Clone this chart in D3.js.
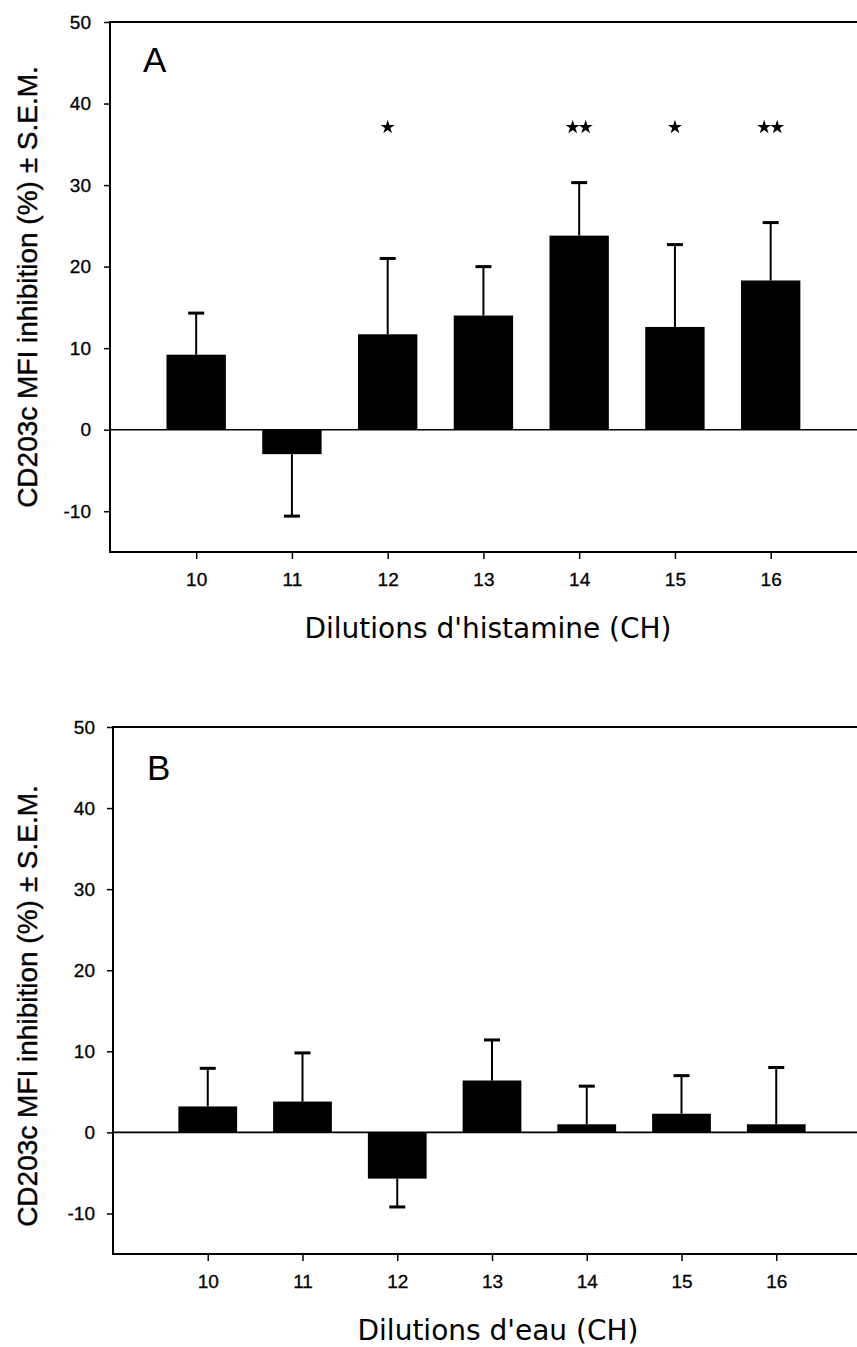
<!DOCTYPE html>
<html>
<head>
<meta charset="utf-8">
<script src="https://cdn.jsdelivr.net/npm/d3@7"></script>
<style>
  body { margin: 0; background: #fff; }
  svg { display: block; }
  .tick text { font-family: "Liberation Sans", Arial, sans-serif; font-size: 19px; fill: #000; stroke: #000; stroke-width: 0.3px; }
</style>
</head>
<body>
<svg id="chart" width="857" height="1347"></svg>
<script>
// dilutions (CH)
const categories = [10, 11, 12, 13, 14, 15, 16];
const yTicks = [-10, 0, 10, 20, 30, 40, 50];

// A: histamine
const histMean = [9.2, -3.0, 11.7, 14.0, 23.8, 12.6, 18.3];
const histSem = [5.1, 7.6, 9.3, 6.0, 6.5, 10.1, 7.1];
const histSig = ["", "", "*", "", "**", "*", "**"];

// B: eau
const waterMean = [3.2, 3.8, -5.7, 6.4, 1.0, 2.3, 1.0];
const waterSem = [4.7, 6.0, 3.5, 5.0, 4.7, 4.7, 7.0];

const svg = d3.select("#chart");

function drawPanel(p) {
    const g = svg.append("g");
    const x = d3.scaleLinear().domain(p.xDomain).range([p.left, p.right]);
    const y = d3.scaleLinear().domain([-15, 50]).range([p.bottom, p.top]);
    const barW = x(p.xDomain[0] + 0.62) - x(p.xDomain[0]);

    // bars
    g.selectAll("rect.bar")
        .data(p.mean)
        .join("rect")
        .attr("class", "bar")
        .attr("x", (d, i) => x(categories[i]) - barW / 2)
        .attr("y", d => y(Math.max(0, d)))
        .attr("width", barW)
        .attr("height", d => Math.abs(y(d) - y(0)))
        .style("fill", "#000");

    // error bars, only on the side of the bar
    const err = p.mean.map((m, i) => ({ c: categories[i], m: m, e: m + Math.sign(m) * p.sem[i] }));
    g.selectAll("line.err")
        .data(err)
        .join("line")
        .attr("x1", d => x(d.c)).attr("x2", d => x(d.c))
        .attr("y1", d => y(d.m)).attr("y2", d => y(d.e))
        .style("stroke", "#000").style("stroke-width", 2);
    g.selectAll("line.cap")
        .data(err)
        .join("line")
        .attr("x1", d => x(d.c) - 8).attr("x2", d => x(d.c) + 8)
        .attr("y1", d => y(d.e)).attr("y2", d => y(d.e))
        .style("stroke", "#000").style("stroke-width", 3);

    // zero line
    g.append("line")
        .attr("x1", p.left).attr("x2", p.right)
        .attr("y1", y(0)).attr("y2", y(0))
        .style("stroke", "#000").style("stroke-width", 1.6);

    // frame: top + bottom + left
    g.append("path")
        .attr("d", `M${p.right},${p.top}H${p.left}V${p.bottom}H${p.right}`)
        .style("fill", "none").style("stroke", "#000").style("stroke-width", 2);

    // axes
    const yAxis = g.append("g")
        .attr("transform", `translate(${p.left},0)`)
        .call(d3.axisLeft(y).tickValues(yTicks).tickSize(6).tickPadding(p.yPad).tickSizeOuter(0)
            .tickFormat(d => String(d)));
    yAxis.select(".domain").remove();
    yAxis.selectAll(".tick line").style("stroke-width", 1.5);

    const xAxis = g.append("g")
        .attr("transform", `translate(0,${p.bottom})`)
        .call(d3.axisBottom(x).tickValues(categories).tickSize(7).tickPadding(14).tickFormat(d => String(d)));
    xAxis.select(".domain").remove();
    xAxis.selectAll(".tick line").style("stroke-width", 1.5);

    // axis titles
    g.append("text")
        .attr("transform", `translate(37,${p.yTitleY}) rotate(-90)`)
        .attr("text-anchor", "middle")
        .style("font-family", "'Liberation Sans', Arial, sans-serif")
        .style("font-size", "28px")
        .style("stroke", "#000").style("stroke-width", 0.4)
        .text("CD203c MFI inhibition (%) ± S.E.M.");

    g.append("text")
        .attr("x", p.xTitleX)
        .attr("y", p.xTitleY)
        .attr("text-anchor", "middle")
        .style("font-family", "'DejaVu Sans', Verdana, sans-serif")
        .style("font-size", "28px")
        .text(p.xTitle);

    // panel letter
    g.append("text")
        .attr("x", p.letterX).attr("y", p.letterY)
        .style("font-family", "'Liberation Sans', Arial, sans-serif")
        .style("font-size", "35px")
        .text(p.letter);

    // significance stars
    if (p.sig) {
        const star = d3.symbol().type(d3.symbolStar).size(62);
        const stars = [];
        p.sig.forEach((s, i) => {
            const n = s.length;
            for (let k = 0; k < n; k++) {
                stars.push({ cx: x(categories[i]) + (k - (n - 1) / 2) * 13 });
            }
        });
        g.selectAll("path.star")
            .data(stars)
            .join("path")
            .attr("transform", d => `translate(${d.cx},${y(37.1)})`)
            .attr("d", star())
            .style("fill", "#000");
    }
}

drawPanel({
    letter: "A", letterX: 143, letterY: 72,
    xDomain: [9.1, 17.1], left: 110, right: 876,
    top: 22, bottom: 552, yPad: 13,
    mean: histMean, sem: histSem, sig: histSig,
    yTitleY: 287,
    xTitle: "Dilutions d'histamine (CH)", xTitleX: 488, xTitleY: 638
});

drawPanel({
    letter: "B", letterX: 147, letterY: 780,
    xDomain: [9, 17], left: 113, right: 871,
    top: 727, bottom: 1254, yPad: 12,
    mean: waterMean, sem: waterSem, sig: null,
    yTitleY: 1006,
    xTitle: "Dilutions d'eau (CH)", xTitleX: 498, xTitleY: 1340
});
</script>
</body>
</html>
